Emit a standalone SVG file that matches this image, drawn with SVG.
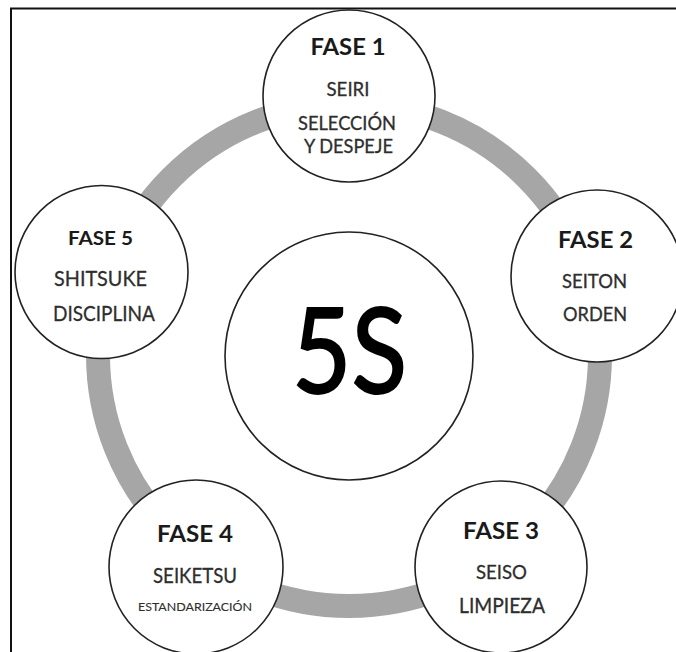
<svg xmlns="http://www.w3.org/2000/svg" width="676" height="652" viewBox="0 0 676 652">
<style>
.bg{fill:#ffffff}
.frame{fill:none;stroke:#111;stroke-width:2}
.ring{fill:none;stroke:#a6a6a6;stroke-width:24}
.node{fill:#ffffff;stroke:#222;stroke-width:1.6}
text{font-family:Lato,"Open Sans","Liberation Sans",sans-serif;text-anchor:middle}
.h{font-weight:bold;fill:#1a1a1a}
.t{fill:#2e2e2e;stroke:#2e2e2e;stroke-width:0.3}
.big{fill:#000;stroke:#000;stroke-width:2;font-size:119px}
</style>
<rect class="bg" x="0" y="0" width="676" height="652"/>
<path class="frame" d="M11,652 V8.5 H676"/>
<g id="connectors">
<circle class="ring" cx="349" cy="355" r="251"/>
</g>
<g id="center">
<circle class="node" cx="349" cy="356" r="124"/>
<text class="big" x="349.5" y="393" textLength="115" lengthAdjust="spacingAndGlyphs">5S</text>
</g>
<g id="fase1">
<circle class="node" cx="349" cy="96" r="86"/>
<text class="h" x="348" y="55" font-size="22" textLength="75" lengthAdjust="spacingAndGlyphs">FASE 1</text>
<text class="t" x="348" y="96" font-size="19.5" textLength="43" lengthAdjust="spacingAndGlyphs">SEIRI</text>
<text class="t" x="347" y="130" font-size="19" textLength="98" lengthAdjust="spacingAndGlyphs">SELECCIÓN</text>
<text class="t" x="348.5" y="153" font-size="19" textLength="89" lengthAdjust="spacingAndGlyphs">Y DESPEJE</text>
</g>
<g id="fase2">
<circle class="node" cx="597" cy="276" r="86"/>
<text class="h" x="595.5" y="248" font-size="22" textLength="75" lengthAdjust="spacingAndGlyphs">FASE 2</text>
<text class="t" x="594.5" y="288" font-size="18.5" textLength="65" lengthAdjust="spacingAndGlyphs">SEITON</text>
<text class="t" x="595" y="321" font-size="18.5" textLength="64" lengthAdjust="spacingAndGlyphs">ORDEN</text>
</g>
<g id="fase3">
<circle class="node" cx="501" cy="567" r="86"/>
<text class="h" x="501" y="539" font-size="23" textLength="76" lengthAdjust="spacingAndGlyphs">FASE 3</text>
<text class="t" x="501.5" y="579" font-size="19.5" textLength="51" lengthAdjust="spacingAndGlyphs">SEISO</text>
<text class="t" x="502" y="613" font-size="20.5" textLength="86" lengthAdjust="spacingAndGlyphs">LIMPIEZA</text>
</g>
<g id="fase4">
<circle class="node" cx="196" cy="567" r="87"/>
<text class="h" x="195" y="542" font-size="23" textLength="76" lengthAdjust="spacingAndGlyphs">FASE 4</text>
<text class="t" x="195" y="583" font-size="20.5" textLength="84" lengthAdjust="spacingAndGlyphs">SEIKETSU</text>
<text class="t" x="195" y="611" font-size="11" textLength="114" lengthAdjust="spacingAndGlyphs" style="stroke-width:0.1">ESTANDARIZACIÓN</text>
</g>
<g id="fase5">
<circle class="node" cx="101.5" cy="272" r="86.5"/>
<text class="h" x="100.5" y="245" font-size="19.5" textLength="65" lengthAdjust="spacingAndGlyphs">FASE 5</text>
<text class="t" x="100.5" y="286" font-size="22" textLength="93" lengthAdjust="spacingAndGlyphs">SHITSUKE</text>
<text class="t" x="104" y="321" font-size="22" textLength="102" lengthAdjust="spacingAndGlyphs">DISCIPLINA</text>
</g>
</svg>
